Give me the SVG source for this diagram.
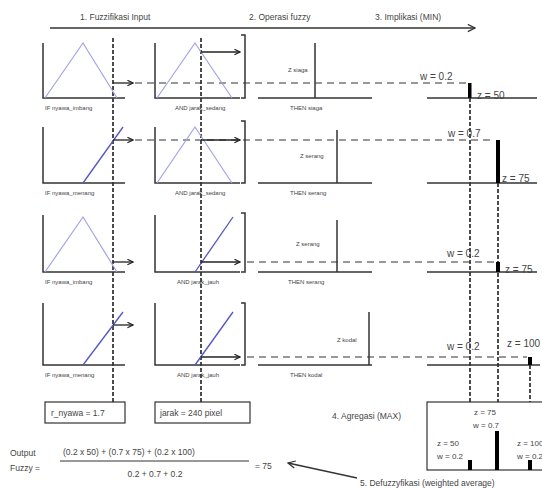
<svg xmlns="http://www.w3.org/2000/svg" width="542" height="488" viewBox="0 0 542 488">
<style>
text{font-family:"Liberation Sans",Arial,sans-serif;fill:#444}
.t{font-size:8.5px}
.s{font-size:6px}
.w{font-size:10px}
.ax{stroke:#333;stroke-width:1.5;fill:none}
.tri{stroke:#a4a4e4;stroke-width:1.2;fill:none}
.rmp{stroke:#5454c4;stroke-width:1.3;fill:none}
.dv{stroke:#111;stroke-width:1.5;stroke-dasharray:4,2;fill:none}
.dh{stroke:#333;stroke-width:1.2;stroke-dasharray:7,5;fill:none}
.ar{stroke:#222;stroke-width:1.3;fill:none;marker-end:url(#ah)}
.bar{fill:#000}
.bx{fill:#fff;stroke:#333;stroke-width:1.2}
</style>
<defs>
<marker id="ah" viewBox="0 0 10 10" refX="9" refY="5" markerWidth="7" markerHeight="7" orient="auto" markerUnits="userSpaceOnUse">
<path d="M1,1 L9,5 L1,9" fill="none" stroke="#222" stroke-width="1.6"/>
</marker>
<marker id="ah2" viewBox="0 0 10 10" refX="9" refY="5" markerWidth="9" markerHeight="9" orient="auto" markerUnits="userSpaceOnUse">
<path d="M1,1 L9,5 L1,9" fill="none" stroke="#333" stroke-width="1.4"/>
</marker>
</defs>
<rect width="542" height="488" fill="#fff"/>

<g id="header">
<text class="t" x="80" y="20">1. Fuzzifikasi Input</text>
<text class="t" x="249" y="20">2. Operasi fuzzy</text>
<text class="t" x="375" y="20">3. Implikasi (MIN)</text>
<line x1="50" y1="28" x2="475" y2="28" stroke="#333" stroke-width="1.5" marker-end="url(#ah2)"/>
</g>

<g id="connectors">
<line class="dv" x1="113" y1="38" x2="113" y2="402"/>
<line class="dv" x1="201" y1="38" x2="201" y2="402"/>
<line class="dv" x1="470" y1="98" x2="470" y2="402"/>
<line class="dv" x1="498" y1="183" x2="498" y2="402"/>
<line class="dv" x1="530" y1="365" x2="530" y2="402"/>
<line class="dh" x1="135" y1="83" x2="467" y2="83"/>
<line class="dh" x1="135" y1="140" x2="495" y2="140"/>
<line class="dh" x1="247" y1="262" x2="495" y2="262"/>
<line class="dh" x1="247" y1="357" x2="527" y2="357"/>
</g>

<!-- Row 1 -->
<g id="r1-in1">
<polyline class="ax" points="43,43 43,98 125,98"/>
<polyline class="tri" points="45,98 83,43 117,98"/>
<line class="ar" x1="113" y1="83" x2="133" y2="83"/>
<text class="s" x="45" y="110">IF nyawa_imbang</text>
</g>
<g id="r1-in2">
<polyline class="ax" points="155,43 155,98 240,98"/>
<polyline class="tri" points="157,98 195,43 232,98"/>
<line class="ar" x1="201" y1="52" x2="240" y2="52"/>
<polyline class="ax" points="241,35 245,35 245,98 241,98"/>
<text class="s" x="175" y="110">AND jarak_sedang</text>
</g>
<g id="r1-then">
<polyline class="ax" points="258,98 372,98"/>
<line class="ax" x1="315" y1="43" x2="315" y2="98"/>
<text class="s" x="288" y="72">Z siaga</text>
<text class="s" x="290" y="110">THEN siaga</text>
</g>
<g id="r1-out">
<line class="ax" x1="427" y1="98" x2="537" y2="98"/>
<rect class="bar" x="468" y="83" width="3.5" height="15"/>
<text class="w" x="420" y="80">w = 0.2</text>
<text class="w" x="477" y="99">z = 50</text>
</g>

<!-- Row 2 -->
<g id="r2-in1">
<polyline class="ax" points="43,127 43,183 125,183"/>
<line class="rmp" x1="83" y1="183" x2="123" y2="127"/>
<line class="ar" x1="113" y1="140" x2="133" y2="140"/>
<text class="s" x="45" y="195">IF nyawa_menang</text>
</g>
<g id="r2-in2">
<polyline class="ax" points="155,127 155,183 240,183"/>
<polyline class="tri" points="157,183 195,127 232,183"/>
<line class="ar" x1="201" y1="140" x2="240" y2="140"/>
<polyline class="ax" points="241,121 245,121 245,183 241,183"/>
<text class="s" x="175" y="195">AND jarak_sedang</text>
</g>
<g id="r2-then">
<polyline class="ax" points="258,183 372,183"/>
<line class="ax" x1="337" y1="130" x2="337" y2="183"/>
<text class="s" x="300" y="158">Z serang</text>
<text class="s" x="290" y="195">THEN serang</text>
</g>
<g id="r2-out">
<line class="ax" x1="427" y1="183" x2="537" y2="183"/>
<rect class="bar" x="496" y="140" width="4" height="43"/>
<text class="w" x="448" y="137">w = 0.7</text>
<text class="w" x="502" y="182">z = 75</text>
</g>

<!-- Row 3 -->
<g id="r3-in1">
<polyline class="ax" points="43,215 43,272 125,272"/>
<polyline class="tri" points="45,272 83,217 117,272"/>
<line class="ar" x1="113" y1="262" x2="133" y2="262"/>
<text class="s" x="45" y="284">IF nyawa_imbang</text>
</g>
<g id="r3-in2">
<polyline class="ax" points="155,215 155,272 240,272"/>
<line class="rmp" x1="195" y1="272" x2="233" y2="217"/>
<line class="ar" x1="201" y1="262" x2="240" y2="262"/>
<polyline class="ax" points="241,213 245,213 245,272 241,272"/>
<text class="s" x="177" y="284">AND jarak_jauh</text>
</g>
<g id="r3-then">
<polyline class="ax" points="258,272 372,272"/>
<line class="ax" x1="337" y1="220" x2="337" y2="272"/>
<text class="s" x="296" y="246">Z serang</text>
<text class="s" x="288" y="284">THEN serang</text>
</g>
<g id="r3-out">
<line class="ax" x1="427" y1="272" x2="537" y2="272"/>
<rect class="bar" x="496" y="262" width="4" height="10"/>
<text class="w" x="447" y="257">w = 0.2</text>
<text class="w" x="505" y="273">z = 75</text>
</g>

<!-- Row 4 -->
<g id="r4-in1">
<polyline class="ax" points="43,303 43,365 125,365"/>
<line class="rmp" x1="83" y1="365" x2="123" y2="312"/>
<line class="ar" x1="113" y1="325" x2="133" y2="325"/>
<text class="s" x="45" y="377">IF nyawa_menang</text>
</g>
<g id="r4-in2">
<polyline class="ax" points="155,303 155,365 240,365"/>
<line class="rmp" x1="195" y1="365" x2="233" y2="312"/>
<line class="ar" x1="201" y1="357" x2="240" y2="357"/>
<polyline class="ax" points="241,303 245,303 245,365 241,365"/>
<text class="s" x="177" y="377">AND jarak_jauh</text>
</g>
<g id="r4-then">
<polyline class="ax" points="258,365 372,365"/>
<line class="ax" x1="369" y1="312" x2="369" y2="365"/>
<text class="s" x="337" y="342">Z kodal</text>
<text class="s" x="290" y="377">THEN kodal</text>
</g>
<g id="r4-out">
<line class="ax" x1="427" y1="365" x2="540" y2="365"/>
<rect class="bar" x="528" y="357" width="4" height="8"/>
<text class="w" x="447" y="350">w = 0.2</text>
<text class="w" x="507" y="347">z = 100</text>
</g>

<!-- Inputs -->
<g id="input-nyawa">
<rect class="bx" x="45" y="402" width="80" height="21"/>
<text class="t" x="51" y="416">r_nyawa = 1.7</text>
</g>
<g id="input-jarak">
<rect class="bx" x="155" y="402" width="95" height="21"/>
<text class="t" x="160" y="416">jarak = 240 pixel</text>
</g>

<!-- Aggregation -->
<g id="agregasi">
<text class="t" x="332" y="419">4. Agregasi (MAX)</text>
<rect class="bx" x="427" y="402" width="125" height="68"/>
<text class="s" x="474" y="415" style="font-size:8px">z = 75</text>
<text class="s" x="473" y="428" style="font-size:8px">w = 0.7</text>
<rect class="bar" x="495" y="431" width="4" height="39"/>
<text class="s" x="437" y="446" style="font-size:8px">z = 50</text>
<text class="s" x="437" y="459" style="font-size:8px">w = 0.2</text>
<rect class="bar" x="468" y="460" width="4" height="10"/>
<text class="s" x="517" y="446" style="font-size:8px">z = 100</text>
<text class="s" x="517" y="459" style="font-size:8px">w = 0.2</text>
<rect class="bar" x="528" y="460" width="4" height="10"/>
</g>

<!-- Defuzzification -->
<g id="defuzz">
<text class="t" x="10" y="456">Output</text>
<text class="t" x="10" y="471">Fuzzy =</text>
<text class="t" x="63" y="455">(0.2 x 50) + (0.7 x 75) + (0.2 x 100)</text>
<line x1="60" y1="461" x2="249" y2="461" stroke="#333" stroke-width="1"/>
<text class="t" x="155" y="477" text-anchor="middle">0.2 + 0.7 + 0.2</text>
<text class="t" x="255" y="469">= 75</text>
<line x1="357" y1="478" x2="288" y2="463" stroke="#333" stroke-width="1.3" marker-end="url(#ah2)"/>
<text class="t" x="360" y="486">5. Defuzzyfikasi (weighted average)</text>
</g>
</svg>
